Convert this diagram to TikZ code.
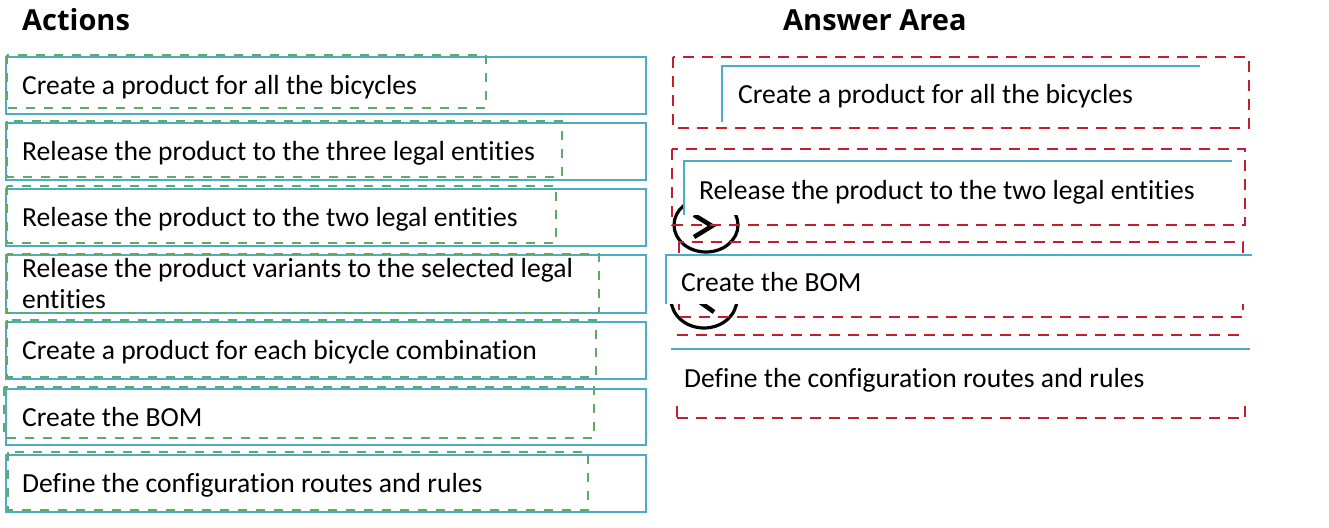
\documentclass[tikz,border=0pt]{standalone}
\usepackage{fontspec}
\setmainfont{Carlito}[Ligatures=NoCommon]
\newfontfamily\headfont{Open Sans}
\definecolor{boxblue}{RGB}{75,172,198}
\definecolor{dashgreen}{RGB}{95,170,100}
\definecolor{dashred}{RGB}{195,30,45}
\tikzset{
  bluebox/.style={draw=boxblue, line width=1.8pt},
  blueline/.style={draw=boxblue, line width=1.8pt},
  greendash/.style={draw=dashgreen, line width=1.6pt, dash pattern=on 9pt off 9pt},
  reddash/.style={draw=dashred, line width=2.2pt, dash pattern=on 11pt off 8pt},
  txt/.style={anchor=base west, inner sep=0pt, font=\fontsize{27.6}{30}\selectfont, text=black},
  head/.style={anchor=base west, inner sep=0pt, font=\headfont\bfseries\fontsize{29}{32}\selectfont, text=black},
  ring/.style={draw=black, line width=3.2pt},
  chev/.style={draw=black, line width=4.5pt, line join=miter}
}
\begin{document}
\begin{tikzpicture}[x=1pt,y=-1pt]
\useasboundingbox (0,0) rectangle (1329,527);
\fill[white] (0,0) rectangle (1329,527);
% headings
\node[head] (hact) at (22,31) {Actions};
\node[head] (hans) at (783,31) {Answer Area};
% left blue boxes
\draw[bluebox] (6,57) rectangle (646,114);
\draw[bluebox] (6,123) rectangle (646,180);
\draw[bluebox] (6,189) rectangle (646,246);
\draw[bluebox] (6,255) rectangle (646,313);
\draw[bluebox] (6,322) rectangle (646,379);
\draw[bluebox] (6,389) rectangle (646,445);
\draw[bluebox] (6,455) rectangle (646,512);
% left green dashed boxes
\draw[greendash] (7,55) rectangle (486,108);
\draw[greendash] (7,121) rectangle (562,177);
\draw[greendash] (7,186) rectangle (556,243);
\draw[greendash] (7,254) rectangle (599,313);
\draw[greendash] (7,320) rectangle (596,377);
\draw[greendash] (4,387) rectangle (594,438);
\draw[greendash] (8,452) rectangle (588,510);
% left texts
\node[txt] (l1) at (22,94) {Create a product for all the bicycles};
\node[txt] (l2) at (22,160) {Release the product to the three legal entities};
\node[txt] (l3) at (22,226) {Release the product to the two legal entities};
\node[txt] (l4a) at (22,277) {Release the product variants to the selected legal};
\node[txt] (l4b) at (22,308) {entities};
\node[txt] (l5) at (22,359) {Create a product for each bicycle combination};
\node[txt] (l6) at (22,426) {Create the BOM};
\node[txt] (l7) at (22,492) {Define the configuration routes and rules};
% circles with chevrons
\draw[ring] (706,225) ellipse [x radius=32, y radius=27];
\draw[chev] (694,215) -- (712,226) -- (694,237);
\draw[ring] (704,299) ellipse [x radius=33, y radius=29];
\draw[chev] (714,288) -- (697,300) -- (714,312);
% red dashed boxes
\draw[reddash] (673,57) rectangle (1249,128);
\draw[reddash] (672,149) rectangle (1245,225);
\draw[reddash] (679,242) rectangle (1243,317);
\draw[reddash] (677,335) -- (1245,335);
\draw[reddash] (677,418) -- (1245,418);
\draw[reddash] (677,406) -- (677,418);
\draw[reddash] (1245,406) -- (1245,418);
% right answer boxes
\fill[white] (722,66) rectangle (1200,122);
\draw[blueline] (722,122) -- (722,66) -- (1200,66);
\fill[white] (684,161) rectangle (1232,215);
\draw[blueline] (684,215) -- (684,161) -- (1232,161);
\fill[white] (666,255) rectangle (1252,304);
\draw[blueline] (666,304) -- (666,255) -- (1252,255);
\draw[blueline] (671,349) -- (1250,349);
% right texts
\node[txt] (r1) at (738,103) {Create a product for all the bicycles};
\node[txt] (r2) at (699,199) {Release the product to the two legal entities};
\node[txt] (r3) at (681,291) {Create the BOM};
\node[txt] (r4) at (684,387) {Define the configuration routes and rules};
\end{tikzpicture}
\end{document}
